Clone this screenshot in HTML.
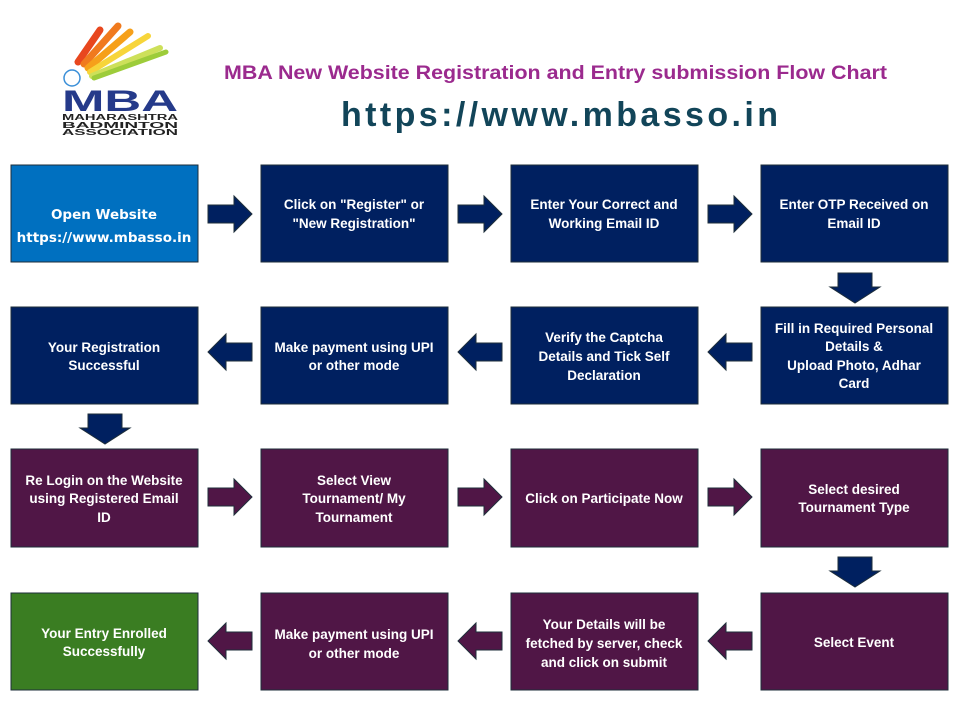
<!DOCTYPE html>
<html><head><meta charset="utf-8"><style>
html,body{margin:0;padding:0;background:#fff;}
svg{display:block}
text{font-family:"Liberation Sans",sans-serif;}
.t{fill:#fff;font-weight:bold;font-size:13.5px;text-anchor:middle}
</style></head><body>
<svg width="960" height="720" viewBox="0 0 960 720" xmlns="http://www.w3.org/2000/svg">
<defs>
<g id="ar"><path d="M0,-9 H26 V-18 L44,0 L26,18 V9 H0 Z" stroke="#1e2e3a" stroke-width="1"/></g>
<g id="al"><path d="M44,-9 H18 V-18 L0,0 L18,18 V9 H44 Z" stroke="#1e2e3a" stroke-width="1"/></g>
<g id="ad"><path d="M-17,0 V14 H-25 L0,30 L25,14 H17 V0 Z" stroke="#1e2e3a" stroke-width="1"/></g>
</defs>
<g stroke-linecap="round" fill="none">
<path d="M78,62 L100,30" stroke="#e8471e" stroke-width="7"/>
<path d="M84,64 L118,26" stroke="#f07a1e" stroke-width="7"/>
<path d="M88,68 L130,32" stroke="#f6a01a" stroke-width="7"/>
<path d="M90,72 L148,36" stroke="#f7d53a" stroke-width="6"/>
<path d="M92,76 L160,48" stroke="#cde05a" stroke-width="6"/>
<path d="M94,78 L166,52" stroke="#9dcc3a" stroke-width="5"/>
<circle cx="72" cy="78" r="8" stroke="#3a8fd8" stroke-width="1.5"/>
</g>
<text x="62" y="111" font-size="30" font-weight="bold" fill="#253a8a" textLength="116" lengthAdjust="spacingAndGlyphs">MBA</text>
<text x="62" y="120" font-size="8" font-weight="bold" fill="#222" textLength="116" lengthAdjust="spacingAndGlyphs">MAHARASHTRA</text>
<text x="62" y="128" font-size="8" font-weight="bold" fill="#222" textLength="116" lengthAdjust="spacingAndGlyphs">BADMINTON</text>
<text x="62" y="135" font-size="8" font-weight="bold" fill="#222" textLength="116" lengthAdjust="spacingAndGlyphs">ASSOCIATION</text>
<text x="224" y="79" font-size="19" font-weight="bold" fill="#9b2a8e" textLength="663" lengthAdjust="spacingAndGlyphs">MBA New Website Registration and Entry submission Flow Chart</text>
<text x="341" y="126" font-size="34" font-weight="bold" fill="#124559" textLength="437" lengthAdjust="spacing">https://www.mbasso.in</text>
<g stroke="#1e2e3a" stroke-width="1">
<rect x="11" y="165" width="187" height="97" fill="#0070c0"/>
<rect x="261" y="165" width="187" height="97" fill="#002060"/>
<rect x="511" y="165" width="187" height="97" fill="#002060"/>
<rect x="761" y="165" width="187" height="97" fill="#002060"/>
<rect x="11" y="307" width="187" height="97" fill="#002060"/>
<rect x="261" y="307" width="187" height="97" fill="#002060"/>
<rect x="511" y="307" width="187" height="97" fill="#002060"/>
<rect x="761" y="307" width="187" height="97" fill="#002060"/>
<rect x="11" y="449" width="187" height="98" fill="#501646"/>
<rect x="261" y="449" width="187" height="98" fill="#501646"/>
<rect x="511" y="449" width="187" height="98" fill="#501646"/>
<rect x="761" y="449" width="187" height="98" fill="#501646"/>
<rect x="11" y="593" width="187" height="97" fill="#3a7d22"/>
<rect x="261" y="593" width="187" height="97" fill="#501646"/>
<rect x="511" y="593" width="187" height="97" fill="#501646"/>
<rect x="761" y="593" width="187" height="97" fill="#501646"/>
</g>
<g fill="#002060">
<use href="#ar" x="208" y="214"/><use href="#ar" x="458" y="214"/><use href="#ar" x="708" y="214"/>
<use href="#ad" x="855" y="273"/>
<use href="#al" x="708" y="352"/><use href="#al" x="458" y="352"/><use href="#al" x="208" y="352"/>
<use href="#ad" x="105" y="414"/>
<use href="#ad" x="855" y="557"/>
</g>
<g fill="#501646">
<use href="#ar" x="208" y="497"/><use href="#ar" x="458" y="497"/><use href="#ar" x="708" y="497"/>
<use href="#al" x="708" y="641"/><use href="#al" x="458" y="641"/><use href="#al" x="208" y="641"/>
</g>
<text class="t" x="104" y="219" font-size="14.5" style="font-family:'DejaVu Sans',sans-serif">Open Website</text>
<text class="t" x="104" y="242" font-size="11.5" style="font-family:'DejaVu Sans',sans-serif">https://www.mbasso.in</text>
<text class="t" x="354" y="209">Click on "Register" or</text>
<text class="t" x="354" y="228">"New Registration"</text>
<text class="t" x="604" y="209">Enter Your Correct and</text>
<text class="t" x="604" y="228">Working Email ID</text>
<text class="t" x="854" y="209">Enter OTP Received on</text>
<text class="t" x="854" y="228">Email ID</text>
<text class="t" x="104" y="352">Your Registration</text>
<text class="t" x="104" y="370">Successful</text>
<text class="t" x="354" y="352">Make payment using UPI</text>
<text class="t" x="354" y="370">or other mode</text>
<text class="t" x="604" y="342">Verify the Captcha</text>
<text class="t" x="604" y="361">Details and Tick Self</text>
<text class="t" x="604" y="380">Declaration</text>
<text class="t" x="854" y="333">Fill in Required Personal</text>
<text class="t" x="854" y="351">Details &amp;</text>
<text class="t" x="854" y="370">Upload Photo, Adhar</text>
<text class="t" x="854" y="388">Card</text>
<text class="t" x="104" y="485">Re Login on the Website</text>
<text class="t" x="104" y="503">using Registered Email</text>
<text class="t" x="104" y="522">ID</text>
<text class="t" x="354" y="485">Select View</text>
<text class="t" x="354" y="503">Tournament/ My</text>
<text class="t" x="354" y="522">Tournament</text>
<text class="t" x="604" y="503">Click on Participate Now</text>
<text class="t" x="854" y="494">Select desired</text>
<text class="t" x="854" y="512">Tournament  Type</text>
<text class="t" x="104" y="638">Your Entry Enrolled</text>
<text class="t" x="104" y="656">Successfully</text>
<text class="t" x="354" y="639">Make payment using UPI</text>
<text class="t" x="354" y="658">or other mode</text>
<text class="t" x="604" y="629">Your Details will be</text>
<text class="t" x="604" y="648">fetched by server, check</text>
<text class="t" x="604" y="667">and  click on submit</text>
<text class="t" x="854" y="647">Select Event</text>
</svg>
</body></html>
